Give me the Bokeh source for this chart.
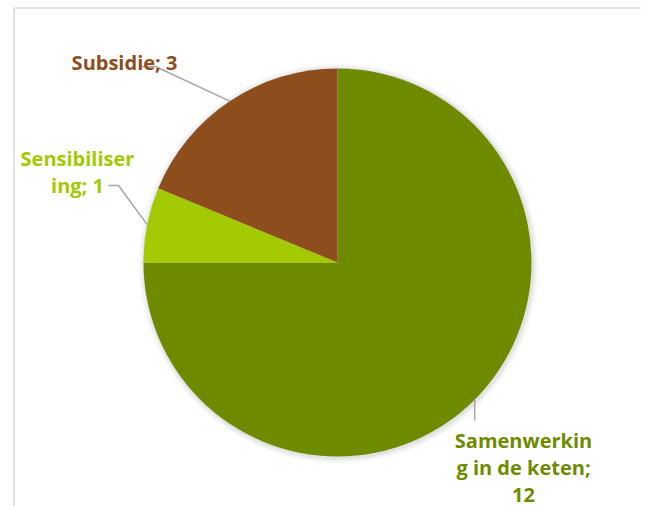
import math
from bokeh.plotting import figure
from bokeh.models import Range1d
from bokeh.core.properties import value
from bokeh.embed import file_html
from bokeh.resources import INLINE

# ---- data ----
categories = ["Samenwerking in de keten", "Sensibilisering", "Subsidie"]
counts = [12, 1, 3]
colors = ["#6E8B00", "#A3C900", "#8E4D1D"]
label_lines = [["Samenwerkin", "g in de keten;", "12"],
               ["Sensibiliser", "ing; 1"],
               ["Subsidie; 3"]]

W, H = 646, 506
p = figure(width=W, height=H, output_backend="svg", toolbar_location=None,
           x_range=Range1d(0, W), y_range=Range1d(0, H),
           min_border=0)
p.axis.visible = False
p.grid.visible = False
p.outline_line_color = None
p.background_fill_color = "white"
p.border_fill_color = "white"

def Y(y_img):
    return 506 - y_img

# chart area border (left and top)
p.line([13.5, 13.5], [Y(7.5), Y(506)], line_color="#D9D9D9", line_width=1.5)
p.line([13.5, 640], [Y(7.5), Y(7.5)], line_color="#D9D9D9", line_width=1.5)

cx, cy, r = 337, Y(262), 194

# soft shadow
for k, a in [(6, 0.025), (4, 0.035), (2, 0.05)]:
    p.circle(x=[cx + 1], y=[cy - 1], radius=r + k, fill_color="black",
             fill_alpha=a, line_color=None)

total = sum(counts)
cum = 0.0
mids = []
for c, col in zip(counts, colors):
    s = cum / total * 2 * math.pi
    e = (cum + c) / total * 2 * math.pi
    cum += c
    p.wedge(x=[cx], y=[cy], radius=r, start_angle=math.pi / 2 - e,
            end_angle=math.pi / 2 - s, fill_color=col, line_color=None)
    mids.append((s + e) / 2)

def edge(theta):
    return cx + r * math.sin(theta), cy + r * math.cos(theta)

lc = "#A6A6A6"
# leader lines
ex, ey = edge(mids[0])
p.line([ex, ex], [ey, Y(420)], line_color=lc, line_width=1.5)
ex, ey = edge(mids[1])
p.line([108, 118, ex], [Y(185), Y(185), ey], line_color=lc, line_width=1.5)
ex, ey = edge(mids[2])
p.line([140, 155, ex], [Y(66), Y(66), ey], line_color=lc, line_width=1.5)

# labels
anchors = [(523, [440, 467, 494]), (77, [158, 185]), (124, [62])]
for lines, (ax, bys), col in zip(label_lines, anchors, colors):
    p.text(x=[ax] * len(lines), y=[Y(b) for b in bys], text=lines,
           text_color=col, text_font=value("Open Sans"),
           text_font_size="20px", text_font_style="bold",
           text_align="center", text_baseline="alphabetic")

open("out.html", "w").write(file_html(p, INLINE))
